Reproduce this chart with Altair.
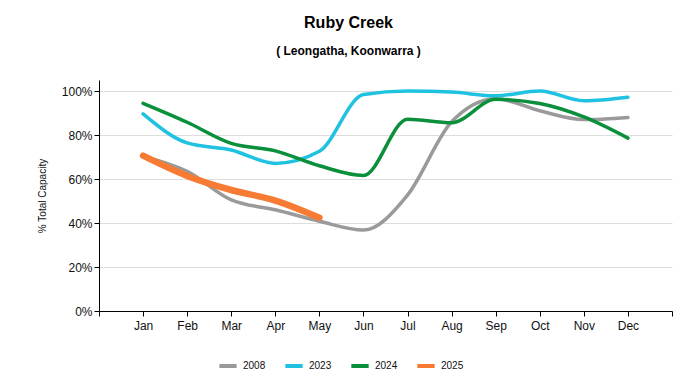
import altair as alt
import pandas as pd

months = ["Jan", "Feb", "Mar", "Apr", "May", "Jun", "Jul", "Aug", "Sep", "Oct", "Nov", "Dec"]
years = ["2008", "2023", "2024", "2025"]
v2008 = [70.3, 63.5, 50.5, 46.0, 40.8, 36.8, 52.7, 86.0, 96.5, 91.0, 87.0, 88.0]
v2023 = [89.6, 76.4, 73.2, 67.1, 72.6, 98.4, 100.0, 99.5, 97.8, 100.0, 95.6, 97.2]
v2024 = [94.4, 85.8, 76.2, 72.8, 66.0, 61.6, 87.2, 85.6, 96.2, 94.3, 88.2, 78.6]
v2025 = [70.6, 61.4, 55.0, 50.2, 42.4]
colors = ["#9a9a9a", "#1fc2e0", "#0a8f3b", "#f77b32"]

rows = []
for yr, vals in zip(years, [v2008, v2023, v2024, v2025]):
    for i, v in enumerate(vals):
        rows.append({"year": yr, "m": i + 1, "v": v})
df = pd.DataFrame(rows)

month_arr = "[" + ",".join("'" + m + "'" for m in months) + "]"

chart = alt.Chart(df).transform_calculate(
    sw="datum.year == '2025' ? 6.5 : 3.5"
).mark_line(interpolate="monotone", strokeCap="round", strokeJoin="round").encode(
    x=alt.X("m:Q", scale=alt.Scale(domain=[0, 13], nice=False, zero=False),
            axis=alt.Axis(values=list(range(14)), title=None, grid=False,
                          labelExpr=f"datum.value>=1 && datum.value<=12 ? {month_arr}[datum.value-1] : ''",
                          labelPadding=4)),
    y=alt.Y("v:Q", scale=alt.Scale(domain=[0, 105], nice=False),
            axis=alt.Axis(values=[0, 20, 40, 60, 80, 100], labelExpr="datum.value + '%'",
                          title="% Total Capacity", titleFontSize=10, titleFontWeight="normal",
                          titlePadding=14, grid=True, gridColor="#dddddd")),
    color=alt.Color("year:N", scale=alt.Scale(domain=years, range=colors),
                    legend=alt.Legend(title=None, orient="none", direction="horizontal",
                                      legendX=118, legendY=275, symbolType="stroke",
                                      symbolStrokeWidth=4, symbolSize=300, labelFontSize=10,
                                      columnPadding=11, symbolOffset=0)),
    strokeWidth=alt.StrokeWidth("sw:Q", scale=None),
    order=alt.Order("year:N"),
).properties(
    width=573, height=231,
    title=alt.TitleParams(text="Ruby Creek", subtitle="( Leongatha, Koonwarra )",
                          fontSize=16, fontWeight="bold", subtitleFontSize=12,
                          subtitleFontWeight="bold", subtitlePadding=15, offset=23,
                          anchor="middle", dx=-37, font="Liberation Sans",
                          subtitleFont="Liberation Sans", color="#000", subtitleColor="#000"),
    padding={"left": 91, "top": 72, "right": 16, "bottom": 70},
    autosize=alt.AutoSizeParams(type="none"),
).configure(font="Liberation Sans").configure_view(stroke=None).configure_axis(
    domainColor="#000", tickColor="#000", tickSize=5, labelFontSize=12, labelColor="#111",
    labelFont="Liberation Sans", titleFont="Liberation Sans", titleColor="#111"
).configure_legend(labelFont="Liberation Sans", labelColor="#111")

chart.save("out.html", embed_options={"renderer": "svg", "actions": False})
